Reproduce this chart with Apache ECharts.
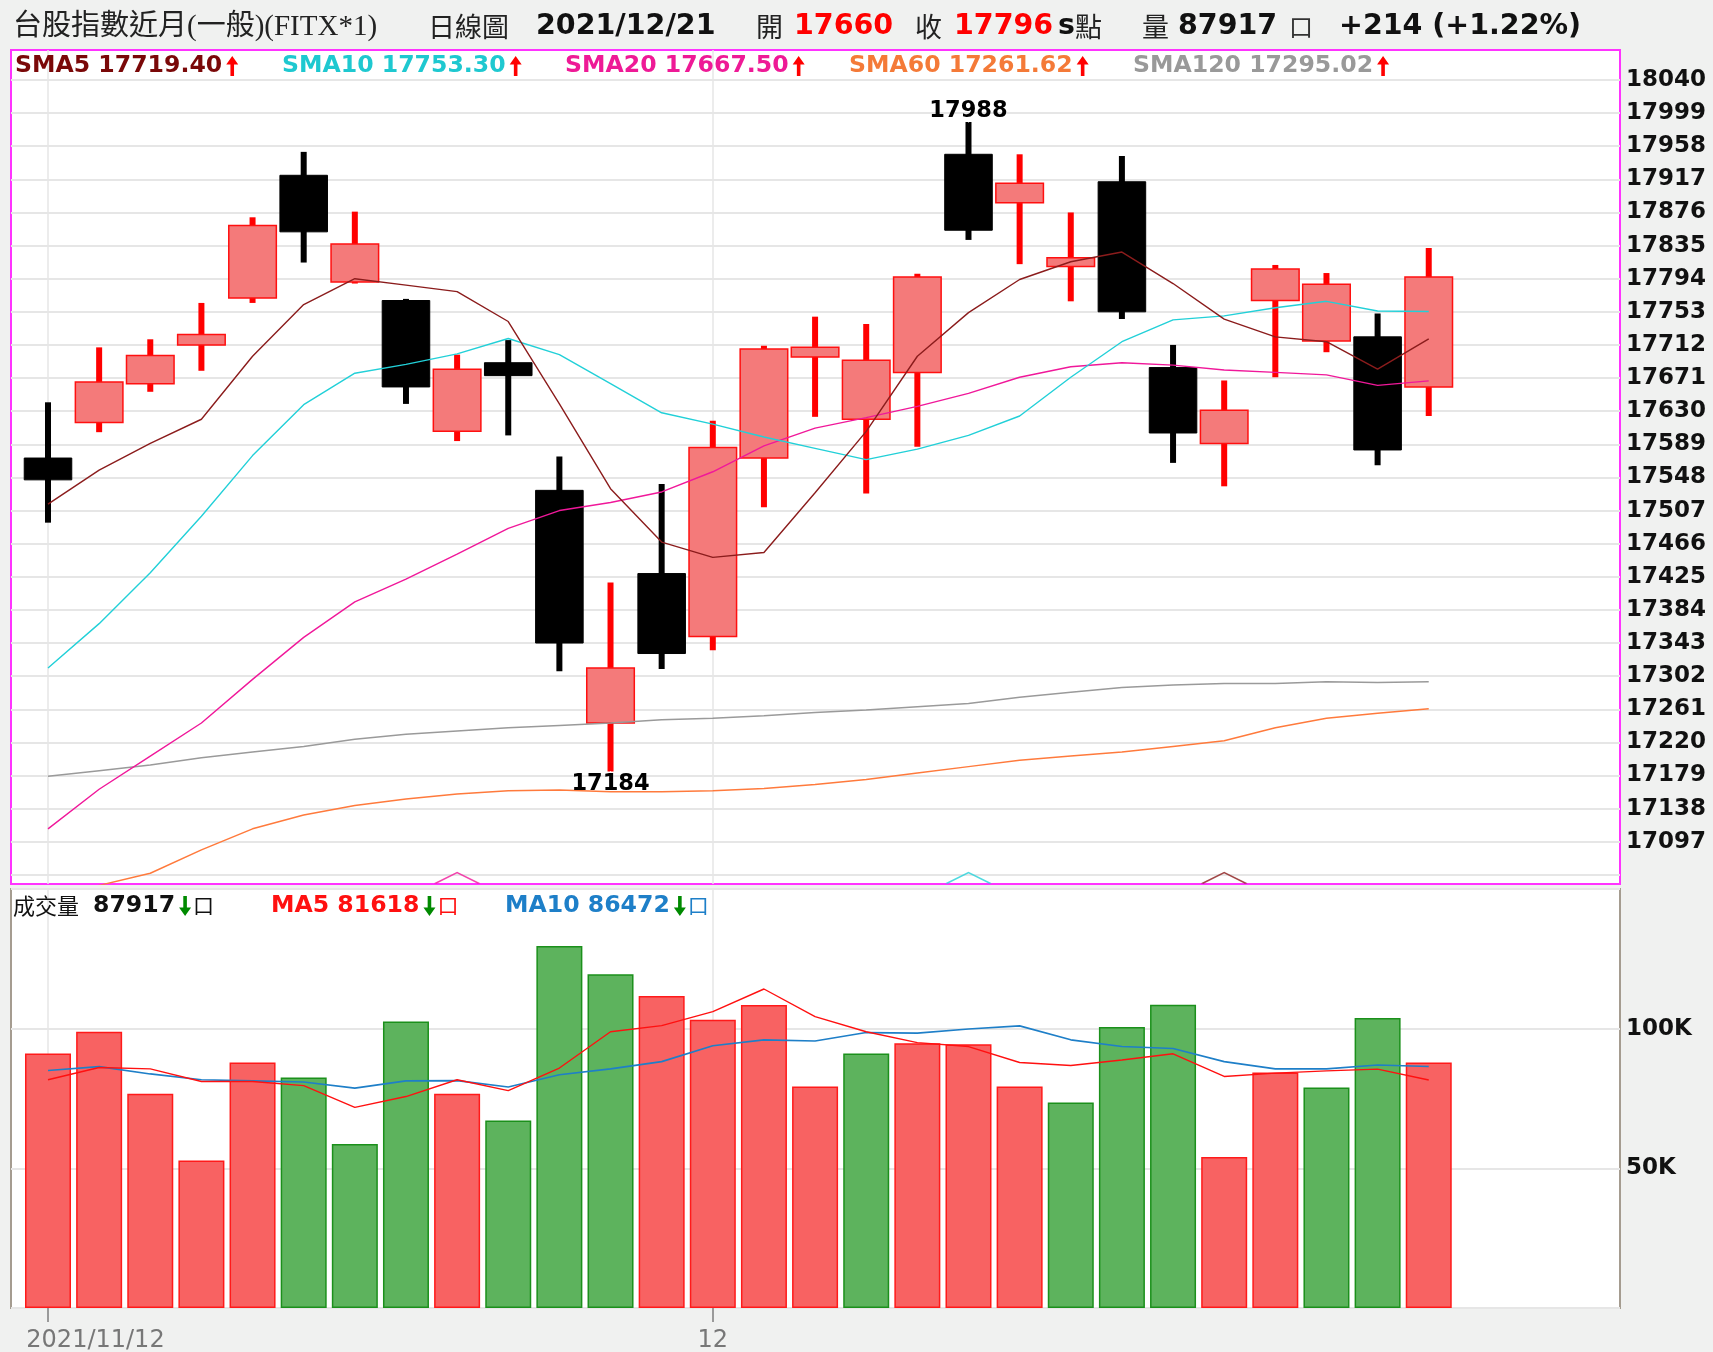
<!DOCTYPE html>
<html><head><meta charset="utf-8">
<script src="https://cdn.jsdelivr.net/npm/echarts@6/dist/echarts.min.js"></script>
<style>html,body{margin:0;padding:0;background:#f0f1f0}#c{width:1713px;height:1352px}</style>
</head><body><div id="c"></div>
<script>
// ---------------- data ----------------
const dates = ['2021/11/12','2021/11/15','2021/11/16','2021/11/17','2021/11/18','2021/11/19',
  '2021/11/22','2021/11/23','2021/11/24','2021/11/25','2021/11/26','2021/11/29','2021/11/30',
  '2021/12/01','2021/12/02','2021/12/03','2021/12/06','2021/12/07','2021/12/08','2021/12/09','2021/12/10',
  '2021/12/13','2021/12/14','2021/12/15','2021/12/16','2021/12/17','2021/12/20','2021/12/21'];
const opens  = [17572,17616,17664,17712,17770,17922,17790,17767,17605,17690,17532,17244,17429,17351,17572,17697,17620,17678,17948,17888,17809,17914,17684,17590,17767,17717,17722,17660];
const closes = [17545,17666,17699,17725,17860,17852,17837,17660,17682,17674,17343,17312,17330,17585,17707,17709,17693,17796,17854,17912,17820,17753,17603,17631,17806,17787,17582,17796];
const highs  = [17641,17709,17719,17764,17870,17951,17877,17769,17700,17718,17574,17418,17540,17618,17711,17747,17738,17800,17988,17948,17876,17946,17712,17668,17811,17801,17751,17832];
const lows   = [17492,17604,17654,17680,17764,17814,17788,17639,17593,17600,17308,17184,17311,17334,17511,17623,17528,17586,17842,17812,17766,17744,17566,17537,17672,17703,17563,17624];
const sma5   = [17515,17557,17590,17620,17698,17762,17794,17786,17778,17741,17639,17534,17468,17449,17455,17529,17605,17698,17752,17793,17815,17827,17788,17744,17722,17716,17682,17719.40];
const sma10  = [17312,17367,17430,17500,17575,17638,17677,17688,17701,17720,17700,17664,17628,17614,17598,17584,17570,17583,17600,17624,17672,17716,17743,17748,17758,17766,17754,17753.30];
const sma20  = [17113,17162,17203,17244,17298,17350,17394,17422,17453,17485,17507,17517,17530,17555,17587,17609,17622,17636,17652,17672,17685,17690,17687,17681,17678,17675,17662,17667.50];
const sma60  = [17025,17043,17058,17087,17113,17130,17142,17150,17156,17160,17161,17159,17159,17160,17163,17168,17174,17182,17190,17198,17203,17208,17215,17222,17238,17250,17256,17261.62];
const sma120 = [17178,17185,17192,17201,17208,17215,17224,17230,17234,17238,17241,17244,17248,17250,17253,17257,17260,17264,17268,17276,17282,17288,17291,17293,17293,17295,17294,17295.02];
const volumes = [91100,98900,76700,52800,87900,82500,58700,102600,76700,67100,129600,119500,111700,103200,108500,79300,91100,94800,94400,79300,73600,100600,108600,54100,84300,78900,103800,87917];
const volUp   = [1,1,1,1,1,0,0,0,1,0,0,0,1,1,1,1,0,1,1,1,0,0,0,1,1,0,0,1];
const volMa5  = [81700,86100,85600,81100,81100,79600,71800,75700,81700,77800,85900,98900,101100,106100,114200,104300,98900,95000,93600,87900,86800,88800,91000,82900,84100,84900,85500,81618];
const volMa10 = [85000,86400,83800,81700,81300,80900,78700,81300,81400,79100,83500,85600,88200,93900,96000,95600,98600,98400,99900,101000,96000,93600,92900,88200,85600,85600,87000,86472];
const priceTicks = [17097,17138,17179,17220,17261,17302,17343,17384,17425,17466,17507,17548,17589,17630,17671,17712,17753,17794,17835,17876,17917,17958,17999,18040];
const priceGrid  = [17056].concat(priceTicks);
const volTicks = [50000,100000];
const xTickIdx = [0,13];
const crossIdx  = [8,18,23];
const crossLine = ['sma20','sma10','sma5'];

// ---------------- style ----------------
const FONT = '"DejaVu Sans", Verdana, sans-serif';
const CJK = '"Noto Sans CJK TC", "Noto Sans CJK SC", sans-serif';
const SERIF = '"Liberation Serif", "Noto Sans CJK TC", serif';
const C = {sma5:'#8b1c1c', sma10:'#22d0d8', sma20:'#f0189a', sma60:'#ff7a3c', sma120:'#9a9a9a',
  sma5t:'#7a0808', sma10t:'#1ec8d0', sma20t:'#ee1a96', sma60t:'#f47a38', sma120t:'#999999',
  upFill:'#f47a7a', upLine:'#ff1010', volRed:'#f86262', volRedB:'#ff1a1a', volGreen:'#5db35d', volGreenB:'#1b901b',
  ma5:'#ff1010', ma10:'#1e7fc8', grid:'#e6e6e6'};
const X_MIN = -0.7235, X_MAX = 30.74;
const Y_MIN = 17044.7, Y_MAX = 18077.1;

const meas = document.createElement('canvas').getContext('2d');
function tw(text, font){ meas.font = font; return meas.measureText(text).width; }
function T(x, y, text, font, fill){ return {type:'text', x:x, y:y, z:100, style:{text:text, font:font, fill:fill||'#111', verticalAlign:'middle', textVerticalAlign:'middle', align:'left'}}; }
// thick arrow glyph (up = 1, down = -1), drawn as polygon
function arrow(x, yc, dir, color){
  const s = dir;
  const pts = [[x+6, yc-10*s],[x+12, yc-1.5*s],[x+7.8, yc-1.5*s],[x+7.8, yc+10*s],[x+4.2, yc+10*s],[x+4.2, yc-1.5*s],[x, yc-1.5*s]];
  return {type:'polygon', z:100, shape:{points:pts}, style:{fill:color}};
}

const g = [];
// title row
const TB = 'bold 28.5px ' + FONT, TS = '29px ' + SERIF, TC = '27px ' + CJK;
g.push(T(13, 27, '台股指數近月(一般)(FITX*1)', TS, '#222'));
g.push(T(428, 27, '日線圖', TC, '#222'));
g.push(T(536, 27, dates[dates.length-1], TB, '#111'));
g.push(T(756, 27, '開', TC, '#222'));
g.push(T(794, 27, String(opens[opens.length-1]), TB, '#ff0000'));
g.push(T(915, 27, '收', TC, '#222'));
g.push(T(954, 27, String(closes[closes.length-1]), TB, '#ff0000'));
g.push(T(1058, 27, 's', TB, '#111'));
g.push(T(1075, 27, '點', TC, '#222'));
g.push(T(1142, 27, '量', TC, '#222'));
g.push(T(1178, 27, String(volumes[volumes.length-1]), TB, '#111'));
g.push(T(1289, 27, '口', '24px ' + CJK, '#333'));
const chg = closes[closes.length-1] - closes[closes.length-2];
g.push(T(1339, 27, '+' + chg + ' (+' + (chg / closes[closes.length-2] * 100).toFixed(2) + '%)', TB, '#111'));

// SMA legend
const LF = 'bold 23.6px ' + FONT;
const smaLeg = [['SMA5 17719.40', 15, C.sma5t], ['SMA10 17753.30', 282, C.sma10t], ['SMA20 17667.50', 565, C.sma20t],
  ['SMA60 17261.62', 849, C.sma60t], ['SMA120 17295.02', 1133, C.sma120t]];
smaLeg.forEach(function(s){
  g.push(T(s[1], 66, s[0], LF, s[2]));
  g.push(arrow(s[1] + tw(s[0], LF) + 4, 66, 1, '#ff0000'));
});
// volume legend
function volLeg(x, label, val, col, boxCol){
  let cx = x;
  if (label) { g.push(T(cx, 906, label, '22px ' + CJK, '#111')); cx += tw(label, '22px ' + CJK) + 14; }
  g.push(T(cx, 906, val, LF, col)); cx += tw(val, LF) + 4;
  g.push(arrow(cx, 906, -1, '#008a00')); cx += 14;
  g.push(T(cx, 905, '口', '21px ' + CJK, boxCol));
}
volLeg(13, '成交量', '87917', '#111', '#111');
volLeg(271, '', 'MA5 81618', C.ma5, C.ma5);
volLeg(505, '', 'MA10 86472', C.ma10, C.ma10);

// ---------------- series ----------------
const idx = dates.map(function(d,i){ return i; });
const candleData = idx.map(function(i){ return [i, opens[i], closes[i], lows[i], highs[i]]; });
function lineS(arr, color, xi, w){
  return {type:'line', xAxisIndex:xi, yAxisIndex:xi, data: idx.map(function(i){ return [i, arr[i]]; }),
    showSymbol:false, symbol:'none', clip:true, z:5, lineStyle:{color:color, width:w}, silent:true};
}
let hiI = 0, loI = 0;
highs.forEach(function(v,i){ if (v > highs[hiI]) hiI = i; });
lows.forEach(function(v,i){ if (v < lows[loI]) loI = i; });

const smaMap = {sma5:C.sma5, sma10:C.sma10, sma20:C.sma20};
const extLabel = {show:true, color:'#000', fontWeight:'bold', fontSize:22.5, fontFamily:FONT, opacity:1};

const option = {
  backgroundColor:'#f0f1f0',
  animation:false,
  graphic: g,
  grid:[
    {left:11, top:50, width:1609, height:834, show:true, backgroundColor:'#ffffff', borderColor:'#ff33ff', borderWidth:2, outerBoundsMode:'none', containLabel:false},
    {left:11, top:889, width:1609, height:419, show:true, backgroundColor:'#ffffff', borderColor:'#a59c90', borderWidth:2, outerBoundsMode:'none', containLabel:false}
  ],
  xAxis:[
    {type:'value', gridIndex:0, min:X_MIN, max:X_MAX, axisLine:{show:false}, axisLabel:{show:false},
      axisTick:{show:false, customValues:xTickIdx}, splitLine:{show:true, lineStyle:{color:C.grid, width:1.5}}},
    {type:'value', gridIndex:1, min:X_MIN, max:X_MAX, axisLine:{show:false},
      axisTick:{show:true, customValues:xTickIdx, length:14, lineStyle:{color:'#9a9a9a', width:2}},
      axisLabel:{customValues:xTickIdx, margin:21, color:'#777', fontSize:24, fontFamily:FONT,
        formatter:function(v){ const i = Math.round(v); return i === 0 ? '{a|' + dates[0] + '}' : String(+dates[i].split('/')[1]); },
        rich:{a:{padding:[0,0,0,95], color:'#777', fontSize:24, fontFamily:FONT}}},
      splitLine:{show:true, lineStyle:{color:C.grid, width:1.5}}}
  ],
  yAxis:[
    {type:'value', gridIndex:0, position:'right', min:Y_MIN, max:Y_MAX, axisLine:{show:false},
      axisTick:{show:false, customValues:priceGrid},
      axisLabel:{customValues:priceTicks, margin:6, color:'#111', fontWeight:'bold', fontSize:23, fontFamily:FONT,
        formatter:function(v){ return String(Math.round(v)); }},
      splitLine:{show:true, lineStyle:{color:C.grid, width:2}}},
    {type:'value', gridIndex:1, position:'right', min:0, max:150000, interval:50000, axisLine:{show:false},
      axisTick:{show:false},
      axisLabel:{customValues:volTicks, margin:6, color:'#111', fontWeight:'bold', fontSize:23, fontFamily:FONT,
        formatter:function(v){ return (v/1000) + 'K'; }},
      splitLine:{show:true, lineStyle:{color:C.grid, width:2}}}
  ],
  series:[
    {type:'custom', name:'K', xAxisIndex:0, yAxisIndex:0, data:candleData, encode:{x:0, y:[1,2,3,4]}, z:3, silent:true,
      renderItem:function(params, api){
        const i = api.value(0), o = api.value(1), c = api.value(2), l = api.value(3), h = api.value(4);
        const up = c >= o;
        const pO = api.coord([i,o]), pC = api.coord([i,c]), pL = api.coord([i,l]), pH = api.coord([i,h]);
        const xc = pO[0];
        const w = api.size([1,0])[0] * 0.93;
        const top = Math.min(pO[1], pC[1]), bh = Math.max(Math.abs(pO[1]-pC[1]), 2);
        return {type:'group', children:[
          {type:'rect', shape:{x:xc-3, y:pH[1], width:6, height:pL[1]-pH[1]}, style:{fill: up ? '#ff0000' : '#000'}},
          {type:'rect', shape:{x:xc-w/2, y:top, width:w, height:bh}, style:{fill: up ? C.upFill : '#000', stroke: up ? C.upLine : '#000', lineWidth: up ? 1.5 : 1}}
        ]};
      }},
    lineS(sma120, C.sma120, 0, 1.5),
    lineS(sma60, C.sma60, 0, 1.5),
    lineS(sma20, C.sma20, 0, 1.4),
    lineS(sma10, C.sma10, 0, 1.4),
    lineS(sma5, C.sma5, 0, 1.4),
    {type:'scatter', xAxisIndex:0, yAxisIndex:0, z:6, silent:true,
      symbol:'path://M0,11 L22,0 L44,11', symbolSize:[44,11], symbolOffset:[0,-6],
      data: crossIdx.map(function(i,k){ return {value:[i, Y_MIN], itemStyle:{color:'rgba(0,0,0,0)', borderColor:smaMap[crossLine[k]], borderWidth:1.5}}; })},
    {type:'scatter', xAxisIndex:0, yAxisIndex:0, z:7, silent:true, symbolSize:1, itemStyle:{color:'#ffffff', opacity:1},
      data:[
        {value:[hiI, highs[hiI]], label:Object.assign({position:'top', distance:-1, formatter:String(highs[hiI])}, extLabel)},
        {value:[loI, lows[loI]], label:Object.assign({position:'bottom', distance:1, formatter:String(lows[loI])}, extLabel)}
      ]},
    {type:'bar', xAxisIndex:1, yAxisIndex:1, barWidth:46, z:3, silent:true,
      data: idx.map(function(i){ return {value:[i, volumes[i]], itemStyle: volUp[i] ? {color:C.volRed, borderColor:C.volRedB, borderWidth:1.5} : {color:C.volGreen, borderColor:C.volGreenB, borderWidth:1.5}}; })},
    lineS(volMa10, C.ma10, 1, 1.6),
    lineS(volMa5, C.ma5, 1, 1.4)
  ]
};
const chart = echarts.init(document.getElementById('c'));
chart.setOption(option);
</script></body></html>
